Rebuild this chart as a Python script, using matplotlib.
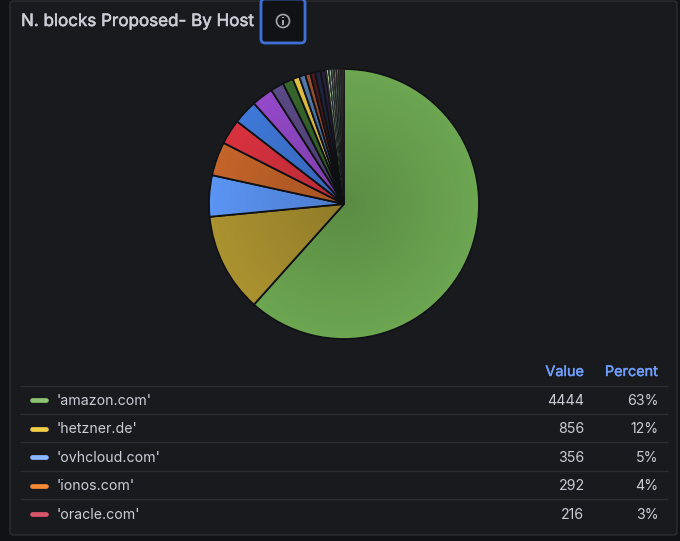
import matplotlib
matplotlib.use("Agg")
import matplotlib.pyplot as plt
import matplotlib.patheffects as pe
from matplotlib.patches import FancyBboxPatch, Circle, Rectangle
import numpy as np

plt.rcParams['font.family'] = ['Inter', 'DejaVu Sans']

slice_values = [4444, 856, 356, 292, 216, 210, 186, 114, 92, 58, 54, 44, 42, 48, 40,
                12, 14, 10, 12, 10, 10, 12, 10, 10, 10, 10, 10, 10, 10, 10]
slice_colors = ['#6ca651', '#ab9230', '#5b94f3', '#c4642a', '#d9323f', '#3f78d8', '#9449c9',
                '#5a4a85', '#37662c', '#e0c040', '#4f78a8', '#99502c', '#4a1a1c', '#1f2540',
                '#2c1f3a', '#2c3a30', '#a4c490', '#30384a', '#b4cfb0', '#2f3a3a', '#8fb09a',
                '#38302f', '#7f9f95', '#302a30', '#6f8070', '#3a2a2a', '#5f6a60', '#3a2a2a',
                '#55484a', '#3a2a2a']

legend_names = ["'amazon.com'", "'hetzner.de'", "'ovhcloud.com'", "'ionos.com'", "'oracle.com'"]
legend_colors = ['#8cc474', '#f2cc47', '#8ab8ff', '#f58a35', '#d9566a']
legend_values = [4444, 856, 356, 292, 216]
legend_percent = ['63%', '12%', '5%', '4%', '3%']
row_lines = [386, 414, 442, 471, 499]
row_text = [400.8, 429.3, 457.8, 486.3, 514.8]

W, H = 680, 541
BG = '#191a1e'
TXT = '#ccccd6'

fig = plt.figure(figsize=(W / 100, H / 100), dpi=100, facecolor='#111215')

# page layer in pixel coordinates
bg = fig.add_axes([0, 0, 1, 1])
bg.set_xlim(0, W)
bg.set_ylim(H, 0)
bg.axis('off')
bg.add_patch(FancyBboxPatch((10, 1), 667, 534, boxstyle="round,pad=0,rounding_size=3",
                            fc=BG, ec='#2c2d31', lw=1))

# title and info button
bg.text(21, 21.5, "N. blocks Proposed- By Host", color=TXT, fontsize=12.25, va='center', ha='left',
        path_effects=[pe.withStroke(linewidth=0.4, foreground=TXT)])
bg.add_patch(FancyBboxPatch((261, -1), 44, 44, boxstyle="round,pad=0,rounding_size=4",
                            fc='#111215', ec='#3d71d9', lw=2))
bg.add_patch(Circle((283, 21), 6.5, fc='none', ec='#a5a6ae', lw=1.2))
bg.add_patch(Rectangle((282.4, 20), 1.2, 4.5, fc='#a5a6ae', ec='none'))
bg.add_patch(Rectangle((282.4, 17), 1.2, 1.4, fc='#a5a6ae', ec='none'))

# pie
cx, cy, r = 344, 204, 135
ax = fig.add_axes([(cx - r) / W, 1 - (cy + r) / H, 2 * r / W, 2 * r / H])
wedges, _ = ax.pie(slice_values, colors=slice_colors, startangle=90, counterclock=False, radius=1,
                   wedgeprops=dict(edgecolor='#111215', linewidth=1.3))
ax.set_aspect('equal')
ax.axis('off')
for i, w in enumerate(wedges):
    w.set_clip_on(False)
    # the thin slices would vanish under a full outline
    if slice_values[i] < 20:
        w.set_linewidth(0.25)

# grafana gradient: slices get darker towards the middle
n = 300
gx, gy = np.meshgrid(np.linspace(-1, 1, n), np.linspace(-1, 1, n))
rr = np.sqrt(gx ** 2 + gy ** 2)
shade = np.zeros((n, n, 4))
shade[..., 3] = np.clip(0.16 * (1 - rr), 0, 1)
im = ax.imshow(shade, extent=(-1, 1, -1, 1), zorder=5, interpolation='bilinear')
im.set_clip_path(Circle((0, 0), 1, transform=ax.transData))
ax.set_xlim(-1, 1)
ax.set_ylim(-1, 1)

# legend table
head_fx = [pe.withStroke(linewidth=0.3, foreground='#6e9fff')]
bg.text(584, 372, "Value", color='#6e9fff', fontsize=10.4, ha='right', va='center', path_effects=head_fx)
bg.text(658, 372, "Percent", color='#6e9fff', fontsize=10.4, ha='right', va='center', path_effects=head_fx)
for y in row_lines:
    bg.plot([20, 668], [y, y], color='#2c2d31', lw=1, solid_capstyle='butt')
for name, col, val, pct, y in zip(legend_names, legend_colors, legend_values, legend_percent, row_text):
    bg.plot([32, 45.5], [y - 0.8, y - 0.8], color=col, lw=3.4, solid_capstyle='round')
    bg.text(57, y, name, color=TXT, fontsize=10.2, ha='left', va='center')
    bg.text(584.5, y, str(val), color=TXT, fontsize=10.2, ha='right', va='center')
    bg.text(658.5, y, pct, color=TXT, fontsize=10.2, ha='right', va='center')

fig.savefig("out.png", dpi=100, facecolor=fig.get_facecolor())
